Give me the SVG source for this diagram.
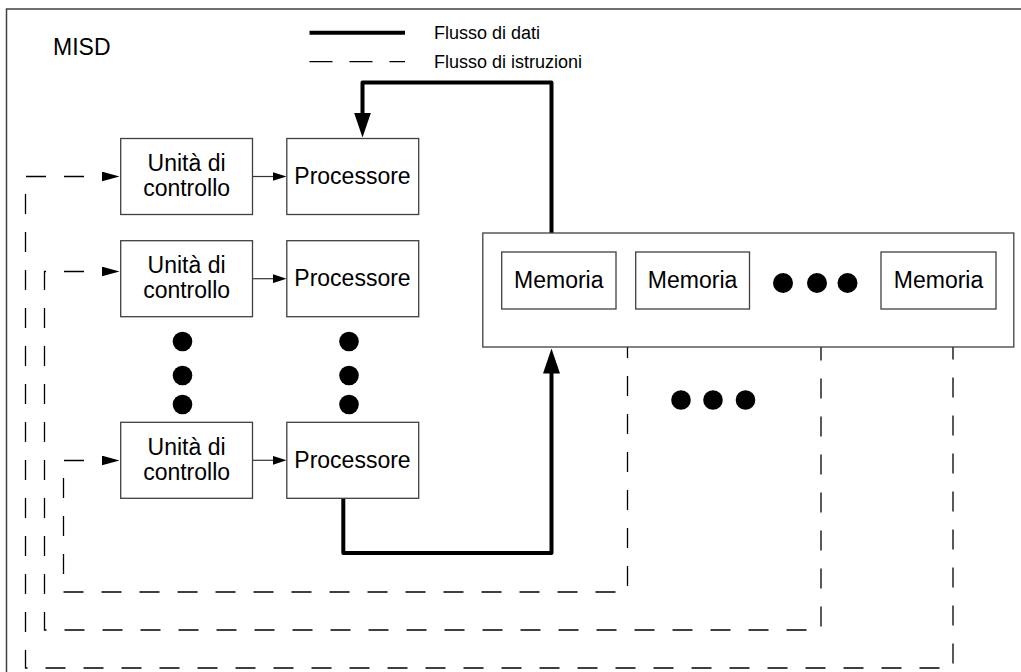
<svg xmlns="http://www.w3.org/2000/svg" width="1021" height="672" viewBox="0 0 1021 672">
  <style>
    .box { fill: #fff; stroke: #404040; stroke-width: 1.3; }
    .lbl { font-family: "Liberation Sans", Arial, sans-serif; font-size: 23px; fill: #000; text-anchor: middle; }
    .legend { font-family: "Liberation Sans", Arial, sans-serif; font-size: 18px; fill: #000; }
    .instr { fill: none; stroke: #000; stroke-width: 1.3; stroke-dasharray: 20 18; stroke-dashoffset: 20; }
    .data { fill: none; stroke: #000; stroke-width: 4; stroke-linejoin: round; }
    .ctl { fill: none; stroke: #333; stroke-width: 1.2; }
    .dot { fill: #000; }
  </style>
  <defs>
    <marker id="headData" markerUnits="userSpaceOnUse" viewBox="0 0 25 17" markerWidth="25" markerHeight="17" refX="1" refY="8.5" orient="auto">
      <path d="M0,0 L25,8.5 L0,17 Z" fill="#000"/>
    </marker>
    <marker id="headInstr" markerUnits="userSpaceOnUse" viewBox="0 0 18 10" markerWidth="18" markerHeight="10" refX="0.5" refY="5" orient="auto-start-reverse">
      <path d="M0,0 L18,5 L0,10 Z" fill="#000"/>
    </marker>
    <marker id="headCtl" markerUnits="userSpaceOnUse" viewBox="0 0 14 9" markerWidth="14" markerHeight="9" refX="0.5" refY="4.5" orient="auto">
      <path d="M0,0 L14,4.5 L0,9 Z" fill="#000"/>
    </marker>
  </defs>

  <!-- outer frame (runs past the right and bottom edges) -->
  <rect x="6.5" y="9" width="1040" height="700" fill="#fff" stroke="#404040" stroke-width="1.5"/>

  <text x="53" y="54.5" font-family="Liberation Sans, Arial, sans-serif" font-size="23" fill="#000">MISD</text>

  <!-- legend -->
  <g id="legend">
    <line x1="309.5" y1="32.7" x2="405" y2="32.7" stroke="#000" stroke-width="4"/>
    <text class="legend" x="434" y="38.5">Flusso di dati</text>
    <line x1="309.5" y1="61.7" x2="405" y2="61.7" stroke="#000" stroke-width="1.3" stroke-dasharray="23 17"/>
    <text class="legend" x="434" y="67.5">Flusso di istruzioni</text>
  </g>

  <!-- connectors -->
  <g id="connectors">
    <!-- instruction streams from the memories back to each control unit -->
    <path class="instr" d="M102,176.5 H25.5 V668 H953 V347" marker-start="url(#headInstr)"/>
    <path class="instr" d="M102,271.5 H44.5 V630 H821 V347" marker-start="url(#headInstr)"/>
    <path class="instr" d="M102,460.5 H63.5 V592 H627.5 V347" marker-start="url(#headInstr)"/>
    <!-- control unit to processor -->
    <path class="ctl" d="M252.5,176.5 H273" marker-end="url(#headCtl)"/>
    <path class="ctl" d="M252.5,278.7 H273" marker-end="url(#headCtl)"/>
    <path class="ctl" d="M252.5,460.3 H273" marker-end="url(#headCtl)"/>
    <!-- data stream: memory to first processor, last processor to memory -->
    <path class="data" d="M551.5,233 V82.5 H362.5 V113.5" marker-end="url(#headData)"/>
    <path class="data" d="M343.3,498 V553 H551.5 V372.5" marker-end="url(#headData)"/>
  </g>

  <!-- control units -->
  <g id="cu1">
    <rect class="box" x="120.7" y="138.5" width="131.8" height="76"/>
    <text class="lbl" x="186.6" y="171">Unità di</text>
    <text class="lbl" x="186.6" y="196">controllo</text>
  </g>
  <g id="cu2">
    <rect class="box" x="120.7" y="240.7" width="131.8" height="76"/>
    <text class="lbl" x="186.6" y="273.3">Unità di</text>
    <text class="lbl" x="186.6" y="298.3">controllo</text>
  </g>
  <g id="cu3">
    <rect class="box" x="120.7" y="422.3" width="131.8" height="76"/>
    <text class="lbl" x="186.6" y="455">Unità di</text>
    <text class="lbl" x="186.6" y="480">controllo</text>
  </g>

  <!-- processors -->
  <g id="p1">
    <rect class="box" x="286.8" y="138.5" width="131.9" height="76"/>
    <text class="lbl" x="352.5" y="184.3">Processore</text>
  </g>
  <g id="p2">
    <rect class="box" x="286.8" y="240.7" width="131.9" height="76"/>
    <text class="lbl" x="352.5" y="286.3">Processore</text>
  </g>
  <g id="p3">
    <rect class="box" x="286.8" y="422.3" width="131.9" height="76"/>
    <text class="lbl" x="352.5" y="468">Processore</text>
  </g>

  <!-- ellipsis between rows -->
  <g id="dots-cu">
    <circle class="dot" cx="182.5" cy="341.5" r="9.8"/>
    <circle class="dot" cx="182.5" cy="375.5" r="9.8"/>
    <circle class="dot" cx="182.5" cy="404.5" r="9.8"/>
  </g>
  <g id="dots-p">
    <circle class="dot" cx="349" cy="341.5" r="9.8"/>
    <circle class="dot" cx="349" cy="375.5" r="9.8"/>
    <circle class="dot" cx="349" cy="404.5" r="9.8"/>
  </g>

  <!-- memory bank -->
  <g id="memory">
    <rect class="box" x="482.8" y="233" width="531" height="114"/>
    <g id="mem1">
      <rect class="box" x="501.7" y="252" width="114.3" height="57"/>
      <text class="lbl" x="558.8" y="288">Memoria</text>
    </g>
    <g id="mem2">
      <rect class="box" x="635.7" y="252" width="113.8" height="57"/>
      <text class="lbl" x="692.6" y="288">Memoria</text>
    </g>
    <g id="mem-dots">
      <circle class="dot" cx="783" cy="283" r="10"/>
      <circle class="dot" cx="817" cy="283" r="10"/>
      <circle class="dot" cx="847.5" cy="283" r="10"/>
    </g>
    <g id="memN">
      <rect class="box" x="881" y="252" width="115" height="57"/>
      <text class="lbl" x="938.5" y="288">Memoria</text>
    </g>
  </g>

  <!-- ellipsis among the instruction streams -->
  <g id="dots-streams">
    <circle class="dot" cx="681" cy="400" r="9.8"/>
    <circle class="dot" cx="713" cy="400" r="9.8"/>
    <circle class="dot" cx="745.5" cy="400" r="9.8"/>
  </g>
</svg>
